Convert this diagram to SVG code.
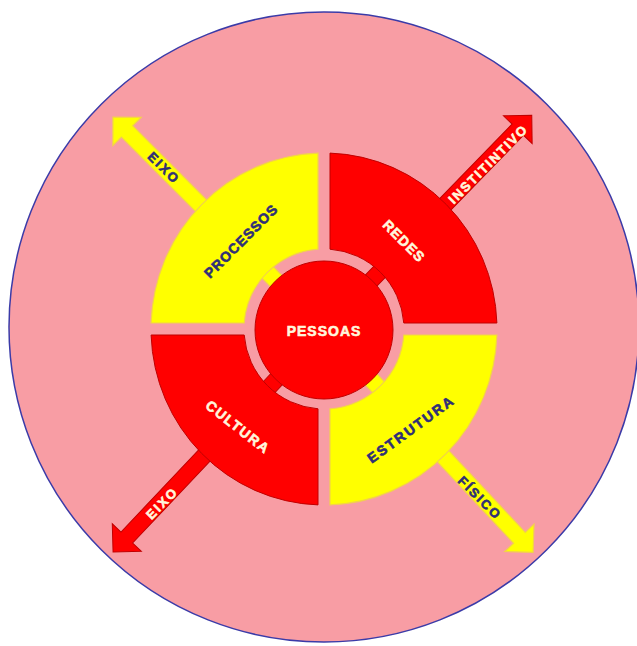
<svg xmlns="http://www.w3.org/2000/svg" width="637" height="646" viewBox="0 0 637 646">
<style>
.red{fill:#FF0000;stroke:#C00000;stroke-width:1}
.yel{fill:#FFFF00;stroke:#F2D24A;stroke-width:1.2}
.t{font-family:"Liberation Sans",Arial,sans-serif;font-weight:bold;text-anchor:middle;stroke-width:0.6}
.blue{fill:#2E2E78;stroke:#2E2E78}
.cream{fill:#FFF6DC;stroke:#FFF6DC}
</style>
<rect width="637" height="646" fill="#FFFFFF"/>
<g id="background">
<circle cx="324" cy="327" r="315" fill="#F89DA4" stroke="#3B3BA8" stroke-width="1.5"/>
</g>
<g id="connectors">
<path class="yel" transform="translate(324,329) rotate(-134.9)" d="M0,-8 L279,-8 L279,-20 L299,0 L279,20 L279,8 L0,8 Z"/>
<path class="red" transform="translate(324,329) rotate(-45.8)" d="M0,-8 L278,-8 L278,-20 L298,0 L278,20 L278,8 L0,8 Z"/>
<path class="red" transform="translate(324,329) rotate(133.4)" d="M0,-8 L287,-8 L287,-20 L307,0 L287,20 L287,8 L0,8 Z"/>
<path class="yel" transform="translate(324,329) rotate(46.9)" d="M0,-8 L286,-8 L286,-20 L306,0 L286,20 L286,8 L0,8 Z"/>
<text class="t blue" font-size="13" letter-spacing="2" transform="translate(164,168) rotate(45)" y="4.7">EIXO</text>
<text class="t cream" font-size="13" letter-spacing="1.8" transform="translate(488,164) rotate(-45)" y="4.7">INSTITINTIVO</text>
<text class="t cream" font-size="13" letter-spacing="2" transform="translate(162,503) rotate(-45)" y="4.7">EIXO</text>
<text class="t blue" font-size="13" letter-spacing="2" transform="translate(480,498) rotate(45)" y="4.7">FÍSICO</text>
</g>
<g id="processos">
<path class="yel" d="M318,153.1 A173,176 0 0,0 151.1,323 L244.2,323 A80,80 0 0,1 318,249.2 Z"/>
<text class="t blue" font-size="14" letter-spacing="1" transform="translate(241,241) rotate(-45)" y="5">PROCESSOS</text>
</g>
<g id="redes">
<path class="red" d="M330,153.1 L330,249.2 A80,80 0 0,1 403.8,323 L496.9,323 A173,176 0 0,0 330,153.1 Z"/>
<text class="t cream" font-size="14" letter-spacing="1" transform="translate(404,241) rotate(45)" y="5">REDES</text>
</g>
<g id="cultura">
<path class="red" d="M318,504.9 L318,408.8 A80,80 0 0,1 244.2,335 L151.1,335 A173,176 0 0,0 318,504.9 Z"/>
<text class="t cream" font-size="14" letter-spacing="1.5" transform="translate(238,427) rotate(38)" y="5">CULTURA</text>
</g>
<g id="estrutura">
<path class="yel" d="M330,504.9 L330,408.8 A80,80 0 0,0 403.8,335 L496.9,335 A173,176 0 0,1 330,504.9 Z"/>
<text class="t blue" font-size="14" letter-spacing="2" transform="translate(411,429) rotate(-36)" y="5">ESTRUTURA</text>
</g>
<g id="pessoas">
<circle class="red" cx="324" cy="330" r="69"/>
<text class="t cream" font-size="14" letter-spacing="1" x="324" y="336">PESSOAS</text>
</g>
</svg>
